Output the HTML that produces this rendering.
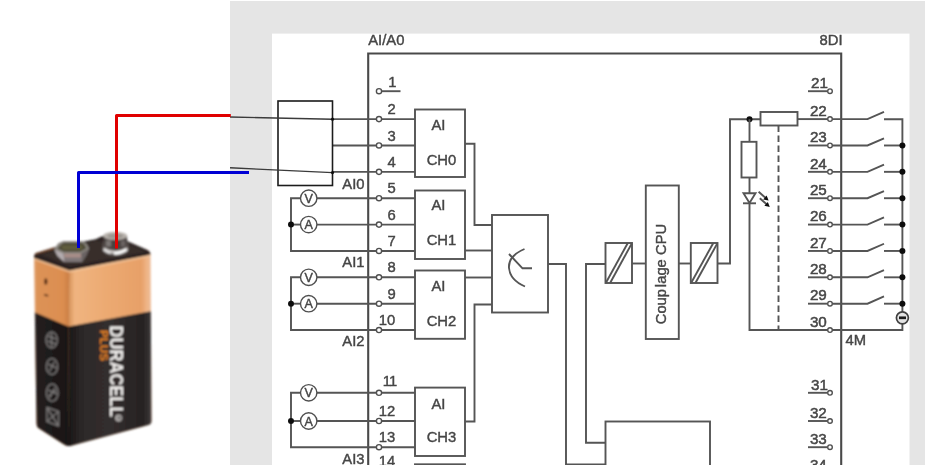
<!DOCTYPE html>
<html><head><meta charset="utf-8"><title>Schema</title>
<style>
html,body{margin:0;padding:0;background:#fff;}
body{width:925px;height:465px;overflow:hidden;position:relative;font-family:"Liberation Sans",Arial,sans-serif;}
svg{position:absolute;left:0;top:0;display:block;}
svg text{font-family:"Liberation Sans",Arial,sans-serif;font-size:14.8px;fill:#464646;stroke:#464646;stroke-width:0.42;}
.l{stroke:#545454;stroke-width:1.9;fill:none;}
.b{stroke:#545454;stroke-width:1.9;fill:#fff;}
.lm{stroke:#4a4a4a;stroke-width:2.1;}
.c{stroke:#505050;stroke-width:1.4;fill:#fff;}
.cw{stroke:#505050;stroke-width:1.4;fill:#fff;}
.cw2{stroke:#404040;stroke-width:1.7;fill:#e4e4e4;}
.minus{stroke:#1a1a1a;stroke-width:2.7;}
.dot{fill:#111;stroke:none;}
svg text.rp{font-size:15.2px;stroke-width:0.5;}
svg text.m{font-size:12.5px;fill:#444;}
.k{stroke:#1c1c1c;stroke-width:1.6;fill:#fff;}
.t{stroke:#3a3a3a;stroke-width:1.4;fill:none;}
</style></head>
<body>
<svg width="925" height="465" viewBox="0 0 925 465">
<rect x="0" y="0" width="925" height="465" fill="#fff"/>
<rect x="230" y="1" width="695" height="464" fill="#e5e5e5"/>
<rect x="272" y="33.6" width="637.5" height="432" fill="#fff"/>
<g id="diagram" filter="url(#soft)">
<polyline class="l lm" points="368.2,470 368.2,53.5 841.2,53.5 841.2,470"/>
<text x="368.2" y="45" text-anchor="start">AI/A0</text>
<text x="842.5" y="45" text-anchor="end">8DI</text>
<text x="845.6" y="345.4" text-anchor="start">4M</text>
<line class="l" x1="381.5" y1="91.2" x2="400.5" y2="91.2"/>
<text x="396.5" y="87.0" text-anchor="end">1</text>
<circle class="c" cx="379" cy="91.2" r="2.6"/>
<line class="l" x1="381.5" y1="119.1" x2="415" y2="119.1"/>
<text x="395.8" y="114.19999999999999" text-anchor="end">2</text>
<circle class="c" cx="379" cy="119.1" r="2.6"/>
<line class="l" x1="381.5" y1="145.47" x2="415" y2="145.47"/>
<text x="395.8" y="140.57" text-anchor="end">3</text>
<circle class="c" cx="379" cy="145.47" r="2.6"/>
<line class="l" x1="381.5" y1="171.84" x2="415" y2="171.84"/>
<text x="395.8" y="166.94" text-anchor="end">4</text>
<circle class="c" cx="379" cy="171.84" r="2.6"/>
<line class="l" x1="381.5" y1="198.21" x2="415" y2="198.21"/>
<text x="395.8" y="193.31" text-anchor="end">5</text>
<circle class="c" cx="379" cy="198.21" r="2.6"/>
<line class="l" x1="381.5" y1="224.58" x2="415" y2="224.58"/>
<text x="395.8" y="219.68" text-anchor="end">6</text>
<circle class="c" cx="379" cy="224.58" r="2.6"/>
<line class="l" x1="381.5" y1="250.95" x2="415" y2="250.95"/>
<text x="395.8" y="246.04999999999998" text-anchor="end">7</text>
<circle class="c" cx="379" cy="250.95" r="2.6"/>
<line class="l" x1="381.5" y1="277.32" x2="415" y2="277.32"/>
<text x="395.8" y="272.42" text-anchor="end">8</text>
<circle class="c" cx="379" cy="277.32" r="2.6"/>
<line class="l" x1="381.5" y1="303.69" x2="415" y2="303.69"/>
<text x="395.8" y="298.79" text-anchor="end">9</text>
<circle class="c" cx="379" cy="303.69" r="2.6"/>
<line class="l" x1="381.5" y1="330.06" x2="415" y2="330.06"/>
<text x="395.3" y="325.16" text-anchor="end">10</text>
<circle class="c" cx="379" cy="330.06" r="2.6"/>
<line class="l" x1="381.5" y1="392.8" x2="415" y2="392.8"/>
<text x="396.6" y="386.40000000000003" text-anchor="end" letter-spacing="-0.7">11</text>
<circle class="c" cx="379" cy="392.8" r="2.6"/>
<line class="l" x1="381.5" y1="421" x2="415" y2="421"/>
<text x="395.3" y="416.1" text-anchor="end">12</text>
<circle class="c" cx="379" cy="421" r="2.6"/>
<line class="l" x1="381.5" y1="447.2" x2="415" y2="447.2"/>
<text x="395.3" y="442.3" text-anchor="end">13</text>
<circle class="c" cx="379" cy="447.2" r="2.6"/>
<line class="l" x1="381.5" y1="471.2" x2="415" y2="471.2"/>
<text x="395.3" y="466.3" text-anchor="end">14</text>
<circle class="c" cx="379" cy="471.2" r="2.6"/>
<line class="l" x1="332.5" y1="119.1" x2="376.5" y2="119.1"/>
<line class="l" x1="332.5" y1="145.47" x2="376.5" y2="145.47"/>
<line class="l" x1="332.5" y1="171.84" x2="376.5" y2="171.84"/>
<polyline class="l" points="301,198.21 291,198.21 291,250.95 376.5,250.95"/>
<line class="l" x1="291" y1="224.58" x2="301" y2="224.58"/>
<line class="l" x1="317" y1="198.21" x2="376.5" y2="198.21"/>
<line class="l" x1="317" y1="224.58" x2="376.5" y2="224.58"/>
<circle class="cw" cx="308.7" cy="198.21" r="8.2"/>
<circle class="cw" cx="308.7" cy="224.58" r="8.2"/>
<circle class="dot" cx="291" cy="224.58" r="3"/>
<text class="m" x="308.7" y="202.81" text-anchor="middle">V</text>
<text class="m" x="308.7" y="229.18" text-anchor="middle">A</text>
<polyline class="l" points="301,277.32 291,277.32 291,330.06 376.5,330.06"/>
<line class="l" x1="291" y1="303.69" x2="301" y2="303.69"/>
<line class="l" x1="317" y1="277.32" x2="376.5" y2="277.32"/>
<line class="l" x1="317" y1="303.69" x2="376.5" y2="303.69"/>
<circle class="cw" cx="308.7" cy="277.32" r="8.2"/>
<circle class="cw" cx="308.7" cy="303.69" r="8.2"/>
<circle class="dot" cx="291" cy="303.69" r="3"/>
<text class="m" x="308.7" y="281.92" text-anchor="middle">V</text>
<text class="m" x="308.7" y="308.29" text-anchor="middle">A</text>
<polyline class="l" points="301,392.8 291,392.8 291,447.2 376.5,447.2"/>
<line class="l" x1="291" y1="421" x2="301" y2="421"/>
<line class="l" x1="317" y1="392.8" x2="376.5" y2="392.8"/>
<line class="l" x1="317" y1="421" x2="376.5" y2="421"/>
<circle class="cw" cx="308.7" cy="392.8" r="8.2"/>
<circle class="cw" cx="308.7" cy="421" r="8.2"/>
<circle class="dot" cx="291" cy="421" r="3"/>
<text class="m" x="308.7" y="397.40000000000003" text-anchor="middle">V</text>
<text class="m" x="308.7" y="425.6" text-anchor="middle">A</text>
<text x="364.5" y="189" text-anchor="end">AI0</text>
<text x="364.5" y="267.3" text-anchor="end">AI1</text>
<text x="364.5" y="345.8" text-anchor="end">AI2</text>
<text x="364.5" y="464.3" text-anchor="end">AI3</text>
<rect class="b" x="415" y="109.5" width="50" height="67.5"/>
<text x="438.5" y="130.3" text-anchor="middle">AI</text>
<text x="441.5" y="164.8" text-anchor="middle">CH0</text>
<rect class="b" x="415" y="190.5" width="50" height="68.5"/>
<text x="438.5" y="210.3" text-anchor="middle">AI</text>
<text x="441.5" y="244.8" text-anchor="middle">CH1</text>
<rect class="b" x="415" y="270.5" width="50" height="68.30000000000001"/>
<text x="438.5" y="291.3" text-anchor="middle">AI</text>
<text x="441.5" y="326.3" text-anchor="middle">CH2</text>
<rect class="b" x="415" y="387.6" width="50" height="68.39999999999998"/>
<text x="438.5" y="408.8" text-anchor="middle">AI</text>
<text x="441.5" y="442.1" text-anchor="middle">CH3</text>
<rect class="b" x="415" y="464.3" width="50" height="15.699999999999989"/>
<rect class="b" x="492" y="215" width="56" height="97.5"/>
<polyline class="l" points="465,143.8 474.5,143.8 474.5,225 492,225"/>
<line class="l" x1="465" y1="250.5" x2="492" y2="250.5"/>
<line class="l" x1="465" y1="277.5" x2="492" y2="277.5"/>
<polyline class="l" points="465,421.5 474.5,421.5 474.5,304.5 492,304.5"/>
<path class="l" d="M524.5,249 Q508,256 509,268 Q510,280 525,286.5"/>
<polyline class="l" points="509,254 522.5,268.3 532,268.3"/>
<polyline class="l" points="548,264 566,264 566,464.5 606,464.5"/>
<polyline class="l" points="605.5,264 586,264 586,442.8 605.5,442.8"/>
<rect class="b" x="605.5" y="243" width="26.5" height="40"/>
<line class="l" x1="605.8" y1="283" x2="627.8" y2="243"/>
<line class="l" x1="610.1" y1="283" x2="631.7" y2="243.6"/>
<rect class="b" x="690.8" y="243" width="26.700000000000045" height="40"/>
<line class="l" x1="691.0999999999999" y1="283" x2="713.3" y2="243"/>
<line class="l" x1="695.4" y1="283" x2="717.2" y2="243.6"/>
<line class="l" x1="632" y1="263.5" x2="645.8" y2="263.5"/>
<line class="l" x1="678.8" y1="263.5" x2="690.8" y2="263.5"/>
<rect class="b" x="645.8" y="185.5" width="33.0" height="153.5"/>
<text transform="translate(666.4,324.3) rotate(-90)">Coup<tspan dx="1.8">lage CPU</tspan></text>
<polyline class="l" points="717.5,263.5 730,263.5 730,119.2 760.5,119.2"/>
<rect class="b" x="760.5" y="112" width="37.0" height="13.5"/>
<circle class="dot" cx="749.5" cy="119.2" r="3"/>
<line class="l" x1="749.5" y1="119.2" x2="749.5" y2="141.8"/>
<rect class="b" x="741.5" y="141.8" width="15.0" height="35.69999999999999"/>
<line class="l" x1="749.5" y1="177.5" x2="749.5" y2="193.3"/>
<polygon class="b" points="743.5,193.3 755.5,193.3 749.5,203"/>
<line class="l" x1="743" y1="203.3" x2="756" y2="203.3"/>
<polyline class="l" points="749.5,203 749.5,330 902.4,330 902.4,119.2 884,119.2"/>
<line class="l" x1="778.5" y1="125.5" x2="778.5" y2="330" stroke-dasharray="6.5 3.5"/>
<line class="l" x1="758.6" y1="191.8" x2="766" y2="198.3"/>
<polygon class="dot" points="768.6,200.6 763.2,199.4 766.6,195.6"/>
<line class="l" x1="759.8000000000001" y1="198.20000000000002" x2="767.2" y2="204.70000000000002"/>
<polygon class="dot" points="769.8000000000001,207.0 764.4000000000001,205.8 767.8000000000001,202.0"/>
<rect class="b" x="605.5" y="421.5" width="104.5" height="58.5"/>
<text x="828.0" y="87.9" text-anchor="end" class="rp">21</text>
<circle class="c" cx="830" cy="91.2" r="2.3"/>
<line class="l" x1="808" y1="91.2" x2="827.5" y2="91.2"/>
<text x="826.8" y="115.8" text-anchor="end" class="rp">22</text>
<circle class="c" cx="830" cy="119.1" r="2.3"/>
<line class="l" x1="797.5" y1="119.1" x2="827.5" y2="119.1"/>
<polyline class="l" points="832.5,119.1 867.5,119.1 884,111.89999999999999"/>
<text x="826.8" y="142.17" text-anchor="end" class="rp">23</text>
<circle class="c" cx="830" cy="145.47" r="2.3"/>
<line class="l" x1="808" y1="145.47" x2="827.5" y2="145.47"/>
<polyline class="l" points="832.5,145.47 867.5,145.47 884,138.27"/>
<line class="l" x1="884" y1="145.47" x2="902.4" y2="145.47"/>
<circle class="dot" cx="902.4" cy="145.47" r="3"/>
<text x="826.8" y="168.54" text-anchor="end" class="rp">24</text>
<circle class="c" cx="830" cy="171.84" r="2.3"/>
<line class="l" x1="808" y1="171.84" x2="827.5" y2="171.84"/>
<polyline class="l" points="832.5,171.84 867.5,171.84 884,164.64000000000001"/>
<line class="l" x1="884" y1="171.84" x2="902.4" y2="171.84"/>
<circle class="dot" cx="902.4" cy="171.84" r="3"/>
<text x="826.8" y="194.91" text-anchor="end" class="rp">25</text>
<circle class="c" cx="830" cy="198.21" r="2.3"/>
<line class="l" x1="808" y1="198.21" x2="827.5" y2="198.21"/>
<polyline class="l" points="832.5,198.21 867.5,198.21 884,191.01000000000002"/>
<line class="l" x1="884" y1="198.21" x2="902.4" y2="198.21"/>
<circle class="dot" cx="902.4" cy="198.21" r="3"/>
<text x="826.8" y="221.28" text-anchor="end" class="rp">26</text>
<circle class="c" cx="830" cy="224.58" r="2.3"/>
<line class="l" x1="808" y1="224.58" x2="827.5" y2="224.58"/>
<polyline class="l" points="832.5,224.58 867.5,224.58 884,217.38000000000002"/>
<line class="l" x1="884" y1="224.58" x2="902.4" y2="224.58"/>
<circle class="dot" cx="902.4" cy="224.58" r="3"/>
<text x="826.8" y="247.64999999999998" text-anchor="end" class="rp">27</text>
<circle class="c" cx="830" cy="250.95" r="2.3"/>
<line class="l" x1="808" y1="250.95" x2="827.5" y2="250.95"/>
<polyline class="l" points="832.5,250.95 867.5,250.95 884,243.75"/>
<line class="l" x1="884" y1="250.95" x2="902.4" y2="250.95"/>
<circle class="dot" cx="902.4" cy="250.95" r="3"/>
<text x="826.8" y="274.02" text-anchor="end" class="rp">28</text>
<circle class="c" cx="830" cy="277.32" r="2.3"/>
<line class="l" x1="808" y1="277.32" x2="827.5" y2="277.32"/>
<polyline class="l" points="832.5,277.32 867.5,277.32 884,270.12"/>
<line class="l" x1="884" y1="277.32" x2="902.4" y2="277.32"/>
<circle class="dot" cx="902.4" cy="277.32" r="3"/>
<text x="826.8" y="300.39" text-anchor="end" class="rp">29</text>
<circle class="c" cx="830" cy="303.69" r="2.3"/>
<line class="l" x1="808" y1="303.69" x2="827.5" y2="303.69"/>
<polyline class="l" points="832.5,303.69 867.5,303.69 884,296.49"/>
<line class="l" x1="884" y1="303.69" x2="902.4" y2="303.69"/>
<circle class="dot" cx="902.4" cy="303.69" r="3"/>
<text x="826.8" y="326.76" text-anchor="end" class="rp">30</text>
<circle class="c" cx="830" cy="330.06" r="2.3"/>
<line class="l" x1="808" y1="330.06" x2="827.5" y2="330.06"/>
<line class="l" x1="832.5" y1="330.06" x2="841.2" y2="330.06"/>
<text x="828.0" y="389.5" text-anchor="end" class="rp">31</text>
<circle class="c" cx="830" cy="392.8" r="2.3"/>
<line class="l" x1="808" y1="392.8" x2="827.5" y2="392.8"/>
<text x="826.8" y="417.7" text-anchor="end" class="rp">32</text>
<circle class="c" cx="830" cy="421" r="2.3"/>
<line class="l" x1="808" y1="421" x2="827.5" y2="421"/>
<text x="826.8" y="443.9" text-anchor="end" class="rp">33</text>
<circle class="c" cx="830" cy="447.2" r="2.3"/>
<line class="l" x1="808" y1="447.2" x2="827.5" y2="447.2"/>
<text x="826.8" y="470.2" text-anchor="end" class="rp">34</text>
<circle class="c" cx="830" cy="473.5" r="2.3"/>
<line class="l" x1="808" y1="473.5" x2="827.5" y2="473.5"/>
<circle class="cw2" cx="902.4" cy="317.8" r="6"/>
<line class="minus" x1="899" y1="317.8" x2="906" y2="317.8"/>
<rect class="k" x="278" y="101" width="54.5" height="84.5" fill="none" style="fill:none"/>
<line class="t" x1="230" y1="117" x2="332.5" y2="119.2"/>
<line class="t" x1="230" y1="167.8" x2="332.5" y2="172.6"/>
<circle class="dot" cx="332.5" cy="119.2" r="1.6"/><circle class="dot" cx="332.5" cy="172.6" r="1.6"/>
</g>
<defs><filter id="soft" x="0" y="0" width="925" height="465" filterUnits="userSpaceOnUse"><feGaussianBlur stdDeviation="0.55"/></filter></defs>
<defs>
<linearGradient id="gR" gradientUnits="userSpaceOnUse" x1="69" y1="0" x2="151" y2="0">
<stop offset="0" stop-color="#d6935a"/><stop offset="0.07" stop-color="#f0b480"/><stop offset="0.45" stop-color="#ecaa72"/><stop offset="0.88" stop-color="#e7a068"/><stop offset="0.96" stop-color="#f0b88c"/><stop offset="1" stop-color="#eab48e"/>
</linearGradient>
<linearGradient id="gL" gradientUnits="userSpaceOnUse" x1="34" y1="0" x2="70" y2="0">
<stop offset="0" stop-color="#e2a06c"/><stop offset="0.1" stop-color="#dc9256"/><stop offset="0.8" stop-color="#dc8e50"/><stop offset="1" stop-color="#c87c44"/>
</linearGradient>
<linearGradient id="gRk" gradientUnits="userSpaceOnUse" x1="69" y1="0" x2="151" y2="0">
<stop offset="0" stop-color="#1a1616"/><stop offset="0.15" stop-color="#2c2828"/><stop offset="0.5" stop-color="#332e2e"/><stop offset="0.9" stop-color="#262222"/><stop offset="1" stop-color="#3a3636"/>
</linearGradient>
<linearGradient id="gLk" gradientUnits="userSpaceOnUse" x1="34" y1="0" x2="70" y2="0">
<stop offset="0" stop-color="#3a3434"/><stop offset="0.1" stop-color="#221e1e"/><stop offset="1" stop-color="#181414"/>
</linearGradient>
<filter id="bb" x="20" y="222" width="145" height="243" filterUnits="userSpaceOnUse"><feGaussianBlur stdDeviation="0.8"/></filter>
<clipPath id="bodyclip"><path d="M36,253 Q34,254 34,258 L36.5,424 Q36.5,427 39,428.5 L64,444.5 Q68,447 72,445.5 L148.5,425 Q151.5,424 151.5,421 L150.5,255 Q150.5,251.5 147.5,250 L127,241 L107,234 L95.5,239.2 L55,247 Z"/></clipPath>
</defs>
<g id="battery" filter="url(#bb)">
<g clip-path="url(#bodyclip)">
<!-- left face -->
<polygon points="33,250 70,268 68,450 33,432" fill="url(#gL)"/>
<!-- right face -->
<polygon points="69.5,268 152,248 153,424 68,450" fill="url(#gR)"/>
<!-- black lower parts -->
<polygon points="33,311.5 68.5,326.5 68,450 33,432" fill="url(#gLk)"/>
<polygon points="68.5,326.5 152,311 153,426 68,450" fill="url(#gRk)"/>
<!-- top face: dark -->
<polygon points="33,257.8 33,250 107,230 152,250 152,254.6 69.5,270.4" fill="#2b2321"/>
<polygon points="40,254.5 95,241 125,242 146,252 70,266" fill="#3c3230" opacity="0.8"/>
<!-- rim highlight -->
<polyline points="34,258.8 69.5,271.6 151,255.6" fill="none" stroke="#f3c8a0" stroke-width="1.6" opacity="0.8"/>
<polyline points="35,253.6 55,248.2" fill="none" stroke="#7a4e34" stroke-width="1.8"/>
</g>
<!-- hex terminal -->
<polygon points="54.3,249 58.5,243.3 63,241.3 82,241.3 86,243.3 89,248.5 86.5,255 82,262 64,262 57.5,256" fill="#7d7678"/>
<polygon points="54.3,249.5 63.5,253.5 64.5,262 57.5,256" fill="#b3acae"/>
<polygon points="63.5,253.5 81,253.5 82,262 64.5,262" fill="#7e7678"/>
<polygon points="64,253.6 81,253.6 81.4,257.4 64.4,257.4" fill="#a98e88"/>
<polygon points="81,253.5 89,249 86.5,255 82,262" fill="#6a6464"/>
<polygon points="54.3,249 58.5,243.3 63,241.8 82,241.8 86,243.3 89,248.5 81,253.3 63.5,253.3" fill="#8a867e"/>
<polygon points="57.5,248.6 61.5,244 64,242.8 81,242.8 84,244 86.4,248.2 80,251.8 64,251.8" fill="#4a4634"/>
<polygon points="62,245 82,245 83,248 80,250 64,250 61,248" fill="#5e5b3c"/>
<!-- round terminal -->
<path d="M102.3,248 Q102,256 115.5,256 Q129,256 128.7,248 L127,238 L104,238 Z" fill="#5d5553"/>
<path d="M103.8,236 L104.4,246.5 Q115.5,252.5 126.6,246.5 L127.2,236 Z" fill="#4a4341"/>
<path d="M104,247.6 Q115.5,254.5 127,247.6 L128,250.5 Q115.5,257.6 103,250.5 Z" fill="#c9c6c4"/>
<path d="M114,251.8 Q120,252.4 126,248.6 L126.6,251 Q120,255.2 114,254.6 Z" fill="#ffffff"/><path d="M104.5,249 Q107,251.5 110.5,252.4 L110.5,254 Q106,252.8 104,250.6 Z" fill="#f2f2f2"/>
<rect x="106" y="240.5" width="5" height="6" fill="#8a8482" opacity="0.8"/>
<rect x="121" y="240.5" width="4" height="6" fill="#7a7472" opacity="0.7"/>
<ellipse cx="115.2" cy="235.8" rx="12" ry="4" fill="#b9b3ad"/>
<ellipse cx="115.2" cy="236" rx="8" ry="2.3" fill="#9a958f"/>
<!-- left face marks -->
<ellipse cx="45.8" cy="281.5" rx="1.6" ry="3.2" fill="#5a3018"/>
<rect x="44" y="294.3" width="4.5" height="1.8" rx="0.9" fill="#5a3018" transform="rotate(14 46 295)"/>
<!-- icons on left face -->
<g fill="none" stroke="#8e8b8b" stroke-width="1.5" opacity="0.8">
<ellipse cx="51.7" cy="340" rx="5.6" ry="8"/>
<path d="M47.5,336 L56,339 M47.5,341 L56,344 M51.5,333 L51.5,347"/>
<ellipse cx="52" cy="366.5" rx="5.6" ry="8"/>
<path d="M48,364 L56.5,368 M49.5,371.5 L54.5,361.5"/>
<ellipse cx="52.2" cy="392.7" rx="5.8" ry="8.6"/>
<path d="M48,390 L57,394 M49.5,398 L55,387.5 M48.5,396 L56.5,390"/>
<path d="M47,407.5 L58.5,411.5 L58.5,426 L47,421.5 Z M47,407.5 L58.5,426 M58.5,411.5 L47,421.5"/>
</g>
<!-- brand text -->
<text transform="translate(109.6,325.4) rotate(90)" style="font-family:'Liberation Sans',Arial,sans-serif;font-weight:bold;font-size:19px;fill:#f4f2f0;stroke:none" textLength="91.5" lengthAdjust="spacingAndGlyphs">DURACELL</text>
<text transform="translate(99.8,330) rotate(90)" style="font-family:'Liberation Sans',Arial,sans-serif;font-weight:bold;font-size:10px;fill:#ee8420;stroke:none" textLength="31" lengthAdjust="spacingAndGlyphs">PLUS</text>
<circle cx="118.6" cy="418" r="3.4" fill="#b9b5b3"/>
<text x="118.6" y="419.8" text-anchor="middle" transform="rotate(90 118.6 418)" style="font-family:'Liberation Sans',Arial,sans-serif;font-weight:bold;font-size:5px;fill:#444;stroke:none">R</text>
</g>

<polyline points="230.8,115.5 116.5,115.5 116.5,248.5" fill="none" stroke="#e00000" stroke-linejoin="round" stroke-width="3"/>
<polyline points="249,172.5 78.5,172.5 78.5,248" fill="none" stroke="#0000d4" stroke-linejoin="round" stroke-width="3"/>
</svg>
</body></html>
